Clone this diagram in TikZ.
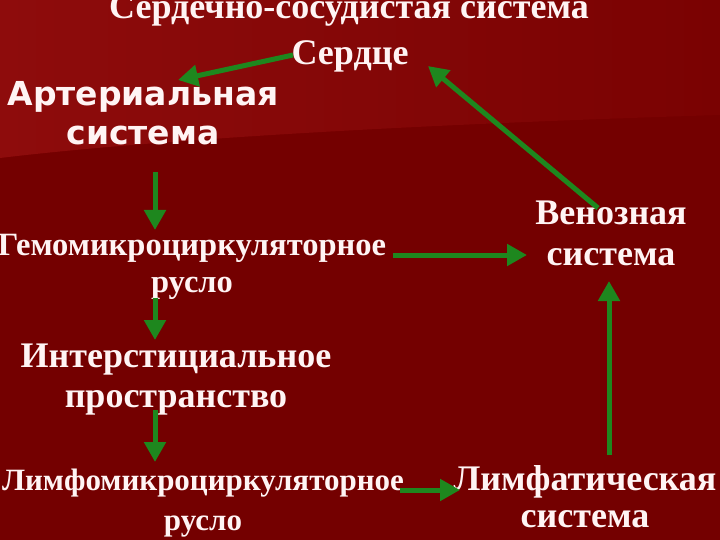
\documentclass[tikz,border=0pt]{standalone}
\usepackage{fontspec}
\setmainfont{Liberation Serif}
\newfontfamily\artfont{DejaVu Sans}
\usetikzlibrary{arrows.meta}
\definecolor{bgdark}{RGB}{116,0,0}
\definecolor{bglight}{RGB}{142,12,12}
\definecolor{bgmid}{RGB}{122,2,2}
\definecolor{arrowgreen}{RGB}{30,135,30}
\definecolor{txt}{RGB}{255,244,244}
\tikzset{
  lbl/.style={text=txt, align=center, inner sep=0pt, anchor=base, font=\bfseries\fontsize{36}{39}\selectfont},
  smalllbl/.style={lbl, font=\bfseries\fontsize{32.5}{37}\selectfont},
  tinylbl/.style={lbl, font=\bfseries\fontsize{31}{40}\selectfont},
  sanslbl/.style={text=txt, align=center, inner sep=0pt, anchor=base, font=\artfont\bfseries\fontsize{33}{39}\selectfont},
  flow/.style={draw=arrowgreen, line width=5pt, -{Triangle[length=20pt,width=21pt]}}
}
\begin{document}
\begin{tikzpicture}[x=1pt,y=-1pt]
\useasboundingbox (0,0) rectangle (720,540);
\fill[bgdark] (0,0) rectangle (720,540);
\shade[left color=bglight, right color=bgmid] (0,0) -- (720,0) -- (720,115) .. controls (400,125) and (150,140) .. (0,158) -- cycle;
% nodes (base anchor = baseline of the last line)
\node[lbl] (title) at (349,19) {Сердечно-сосудистая система};
\node[lbl] (heart) at (350,65) {Сердце};
\node[sanslbl] (art) at (143,145) {Артериальная\\система};
\node[smalllbl] (heme) at (192,292) {Гемомикроциркуляторное\\русло};
\node[lbl, font=\bfseries\fontsize{36}{40}\selectfont] (ven) at (611,265) {Венозная\\система};
\node[lbl, font=\bfseries\fontsize{36}{40}\selectfont] (inter) at (176,407) {Интерстициальное\\пространство};
\node[tinylbl] (lympho) at (203,530) {Лимфомикроциркуляторное\\русло};
\node[lbl, font=\bfseries\fontsize{36}{37}\selectfont] (lymphat) at (585,527) {Лимфатическая\\система};
% connector ends
\coordinate (h1) at (293,55);  \coordinate (a1) at (178,80);
\coordinate (v1) at (598,208); \coordinate (h2) at (428,66);
\coordinate (a2) at (155,172); \coordinate (g1) at (155,230);
\coordinate (g2) at (393,255); \coordinate (v2) at (527,255);
\coordinate (g3) at (155,298); \coordinate (i1) at (155,340);
\coordinate (i2) at (155,410); \coordinate (l1) at (155,462);
\coordinate (l2) at (400,490); \coordinate (m1) at (460,490);
\coordinate (m2) at (609,455); \coordinate (v3) at (609,281);
\draw[flow] (h1) -- (a1);
\draw[flow] (v1) -- (h2);
\draw[flow] (a2) -- (g1);
\draw[flow] (g2) -- (v2);
\draw[flow] (g3) -- (i1);
\draw[flow] (i2) -- (l1);
\draw[flow] (l2) -- (m1);
\draw[flow] (m2) -- (v3);
\end{tikzpicture}
\end{document}
